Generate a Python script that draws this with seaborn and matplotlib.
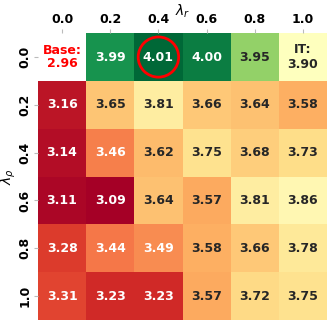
import numpy as np
import pandas as pd
import matplotlib
matplotlib.use('Agg')
import matplotlib.pyplot as plt
import seaborn as sns
from matplotlib.colors import TwoSlopeNorm
from matplotlib.patches import Circle

lambda_r = ['0.0', '0.2', '0.4', '0.6', '0.8', '1.0']
lambda_p = ['0.0', '0.2', '0.4', '0.6', '0.8', '1.0']

row_00 = [np.nan, 3.99, 4.01, 4.00, 3.95, 3.90]
row_02 = [3.16, 3.65, 3.81, 3.66, 3.64, 3.58]
row_04 = [3.14, 3.46, 3.62, 3.75, 3.68, 3.73]
row_06 = [3.11, 3.09, 3.64, 3.57, 3.81, 3.86]
row_08 = [3.28, 3.44, 3.49, 3.58, 3.66, 3.78]
row_10 = [3.31, 3.23, 3.23, 3.57, 3.72, 3.75]

base_score = 2.96
it_score = 3.90

df = pd.DataFrame([row_00, row_02, row_04, row_06, row_08, row_10],
                  index=lambda_p, columns=lambda_r)

# annotation strings, special text for the base and IT cells
annot = df.map(lambda v: '' if np.isnan(v) else f'{v:.2f}')
annot.iloc[0, 5] = f'IT:\n{it_score:.2f}'

fig = plt.figure(figsize=(3.32, 3.25), dpi=100)
ax = fig.add_axes([0.1145, 0.0154, 0.8705, 0.8826])

norm = TwoSlopeNorm(vmin=np.nanmin(df.values), vcenter=it_score, vmax=np.nanmax(df.values))
sns.heatmap(df, annot=annot, fmt='', cmap='RdYlGn', norm=norm, cbar=False,
            annot_kws={'fontsize': 9, 'fontweight': 'bold'}, ax=ax)

# base model score in the empty corner
ax.text(0.5, 0.5, f'Base:\n{base_score:.2f}', ha='center', va='center',
        color='red', fontsize=9, fontweight='bold', linespacing=1.0)

# mark the best cell
best = np.unravel_index(np.nanargmax(df.values), df.shape)
ax.add_patch(Circle((best[1] + 0.5, best[0] + 0.5), 0.42, fill=False,
                    edgecolor='red', linewidth=2))

ax.xaxis.tick_top()
ax.xaxis.set_label_position('top')
ax.set_xlabel(r'$\lambda_r$', fontsize=10, labelpad=-2)
ax.set_ylabel(r'$\lambda_\rho$', fontsize=10, labelpad=0)
ax.tick_params(axis='both', labelsize=9, pad=2, length=3, color='#bbbbbb')
for lbl in ax.get_xticklabels() + ax.get_yticklabels():
    lbl.set_fontweight('bold')

plt.savefig('out.png', dpi=100)
